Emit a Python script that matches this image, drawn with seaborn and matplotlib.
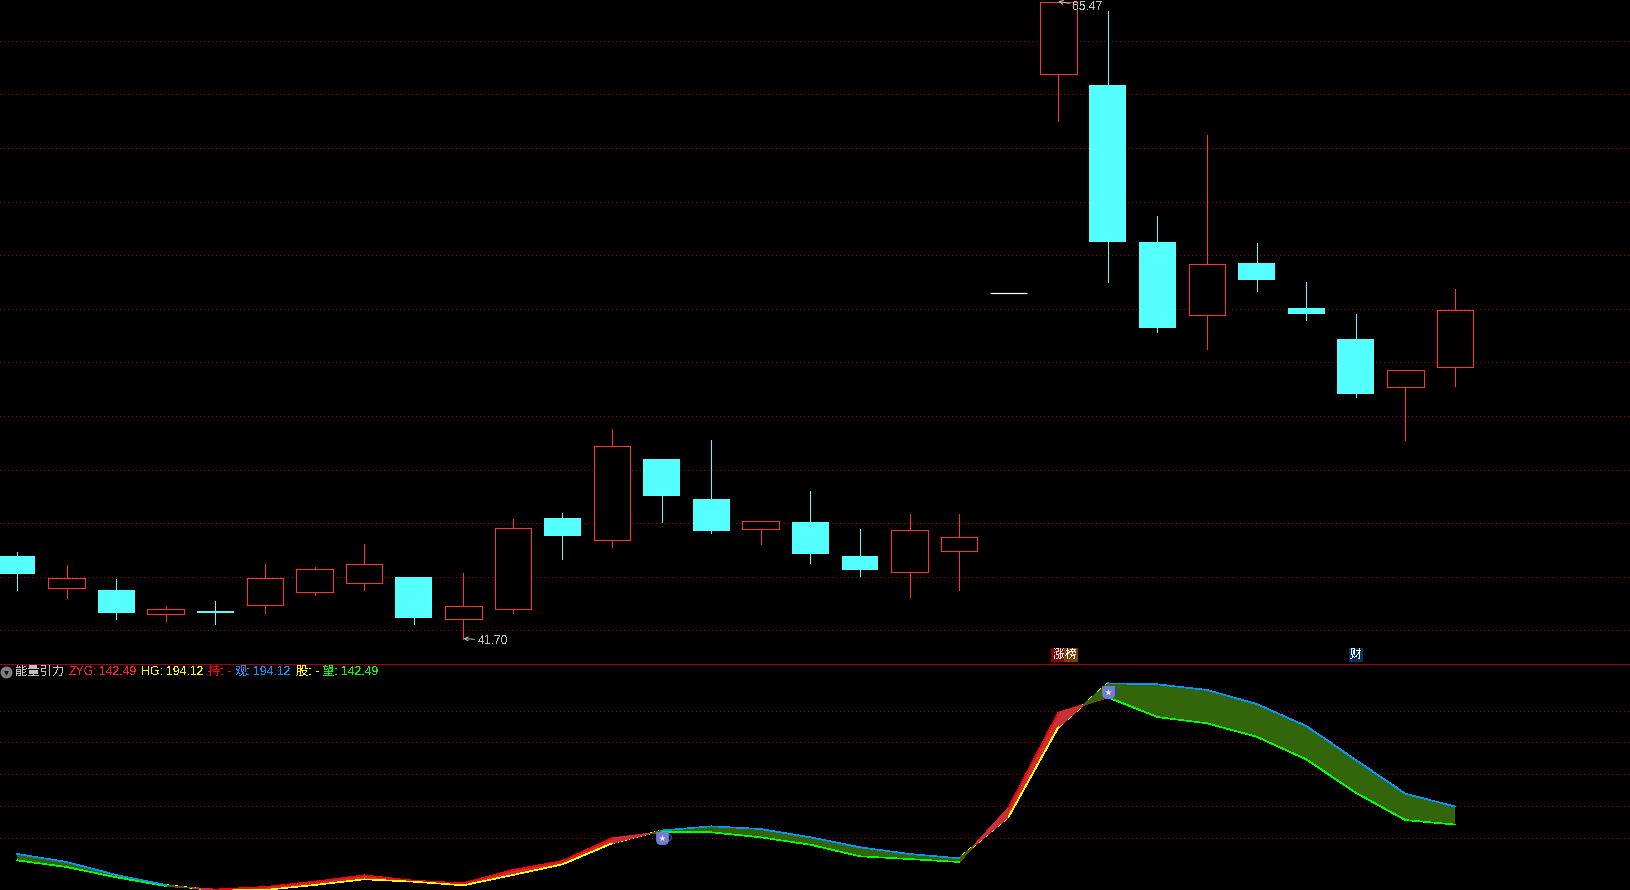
# K-line chart with the energy gravity indicator underneath
import numpy as np
import pandas as pd
import matplotlib.pyplot as plt
import seaborn as sns

# candles (bar 20 is the flat white one)
open_px = [44.78, 43.60, 43.51, 42.63, 42.73, 42.96, 43.45, 43.78, 44.00, 42.44,
           42.81, 46.20, 45.37, 48.40, 46.91, 45.80, 46.05, 44.78, 44.19, 44.98,
           54.58, 62.75, 62.35, 56.50, 53.78, 55.71, 54.03, 52.88, 51.10, 51.84]
high_px = [44.93, 44.44, 43.92, 42.91, 43.10, 44.48, 44.37, 45.23, 44.00, 44.15,
           46.16, 46.38, 49.52, 48.40, 49.11, 46.07, 47.21, 45.79, 46.35, 46.35,
           54.58, 65.47, 65.12, 57.47, 60.49, 56.46, 55.00, 53.81, 51.71, 54.74]
low_px = [43.51, 43.21, 42.43, 42.35, 42.24, 42.65, 43.32, 43.51, 42.24, 41.70,
          42.65, 44.67, 45.12, 46.05, 45.64, 45.23, 44.52, 44.03, 43.25, 43.51,
          54.58, 61.02, 55.00, 53.14, 52.50, 54.67, 53.59, 50.71, 49.11, 51.12]
close_px = [44.11, 43.95, 42.65, 42.79, 42.65, 43.95, 44.28, 44.47, 42.47, 42.90,
            45.81, 45.53, 48.87, 47.02, 45.71, 46.07, 44.86, 44.26, 45.74, 45.48,
            54.58, 65.47, 56.50, 53.29, 55.66, 55.08, 53.81, 50.82, 51.71, 53.95]

# indicator lines
zyg = [39.82, 20.61, -8.93, -33.89, -43.92, -36.75, -21.55, -3.20, -18.69, -26.14,
       12.00, 37.81, 102.92, 120.99, 120.13, 105.79, 84.56, 51.29, 43.55, 34.95,
       190.68, 463.14, 507.31, 450.81, 432.74, 394.31, 329.49, 233.70, 155.40, 142.49]
hg = [57.89, 34.95, -2.34, -31.02, -46.79, -45.36, -31.02, -14.67, -21.55, -31.88,
      -2.34, 28.35, 88.58, 125.29, 137.33, 129.59, 105.79, 77.11, 57.89, 45.56,
      164.87, 421.27, 547.46, 544.59, 528.24, 488.09, 424.99, 327.48, 230.83, 194.12]

price_grid = [64, 62, 60, 58, 56, 54, 52, 50, 48, 46, 44, 42]
indicator_grid = [467.2, 378.3, 286.5, 194.7, 102.9]

cup_bars = [13, 22]
cup_vals = [104.6, 523.4]

legend_texts = ["能量引力", "ZYG:", "142.49", "HG:", "194.12", "持: -", "观:", "194.12", "股: -", "望:", "142.49"]
legend_colors = ["#C0C0C0", "#FF2020", "#FF2020", "#FFFF00", "#FFFF00", "#FF0000",
                 "#0096FF", "#0096FF", "#FFFF00", "#00FF00", "#00FF00"]
legend_x = [15.7, 69, 98.7, 141.3, 165.7, 208.3, 234.7, 253.3, 296, 322.7, 341.3]

W, H = 1631, 890
RED = "#FF3333"
CYAN = "#54FFFF"
GRID = "#A00000"

sns.set_theme(style="dark", rc={"axes.facecolor": "black", "figure.facecolor": "black",
                                "savefig.facecolor": "black", "text.antialiased": False})
plt.rcParams["font.family"] = ["Liberation Sans", "Noto Sans CJK SC", "DejaVu Sans"]

fig = plt.figure(figsize=(W / 100, H / 100), dpi=100)
ax1 = fig.add_axes([0, 226 / H, 1, 664 / H])
ax2 = fig.add_axes([0, 0, 1, 226 / H])

bars = np.arange(len(open_px))
o, h, l, c = map(np.array, (open_px, high_px, low_px, close_px))
up = c > o
down = c < o
flat = c == o
body_w = 0.74

# candles
ax1.vlines(bars[up], l[up], h[up], color=RED, lw=0.72, zorder=2, antialiased=False)
ax1.vlines(bars[down], l[down], h[down], color=CYAN, lw=0.72, zorder=2, antialiased=False)
ax1.bar(bars[down], (o - c)[down], bottom=c[down], width=body_w, color=CYAN, edgecolor="none", linewidth=0,
        zorder=3, antialiased=False)
ax1.bar(bars[up], (c - o)[up], bottom=o[up], width=body_w, facecolor="black", edgecolor=RED,
        linewidth=0.72, zorder=3, antialiased=False)
ax1.hlines(o[flat], bars[flat] - body_w / 2, bars[flat] + body_w / 2, color="white", lw=0.9, zorder=3)

# high / low marks
ax1.annotate("65.47", xy=(21, 65.47), xytext=(10.4, -3.6), textcoords="offset points", color="#C0C0C0",
             fontsize=8.8, va="center", annotation_clip=False,
             arrowprops=dict(arrowstyle="->", color="#C0C0C0", lw=0.7, shrinkA=0, shrinkB=0, mutation_scale=7))
ax1.annotate("41.70", xy=(9, 41.70), xytext=(10.4, -1.5), textcoords="offset points", color="#C0C0C0",
             fontsize=8.8, va="center",
             arrowprops=dict(arrowstyle="->", color="#C0C0C0", lw=0.7, shrinkA=0, shrinkB=0, mutation_scale=7))

# little news tags sitting on the divider
tag_y = 41.09
ax1.text(21, tag_y, "涨", color="#F0F0F0", fontsize=8.6, ha="center", va="center",
         bbox=dict(facecolor="#8B0000", edgecolor="none", pad=0.6))
ax1.annotate("榜", xy=(21, tag_y), xytext=(9, 0), textcoords="offset points", color="#F0F0F0", fontsize=8.6,
             ha="center", va="center", bbox=dict(facecolor="#7B3F00", edgecolor="none", pad=0.6))
ax1.text(27, tag_y, "财", color="#F0F0F0", fontsize=8.6, ha="center", va="center",
         bbox=dict(facecolor="#0A3060", edgecolor="none", pad=0.6))

# indicator: fill first, colours depend on which line is on top
z = np.array(zyg)
g = np.array(hg)
ax2.fill_between(bars, z, g, where=z >= g, interpolate=True, color="#C8303A", lw=0, zorder=3, antialiased=False)
ax2.fill_between(bars, z, g, where=z <= g, interpolate=True, color="#33660A", lw=0, zorder=3, antialiased=False)

rows = []
for i in range(len(bars) - 1):
    falling = z[i] < g[i] and z[i + 1] < g[i + 1]
    crossing = (z[i] - g[i]) * (z[i + 1] - g[i + 1]) < 0
    for j in (i, i + 1):
        rows.append({"bar": j, "value": z[j], "seg": 2 * i, "kind": "green" if falling else "red", "crossing": crossing})
        rows.append({"bar": j, "value": g[j], "seg": 2 * i + 1, "kind": "blue" if falling else "yellow", "crossing": crossing})
lines = pd.DataFrame(rows)
line_colors = {"red": "#FF0000", "yellow": "#FFFF00", "blue": "#0096FF", "green": "#00FF00"}

sns.lineplot(data=lines[lines.crossing], x="bar", y="value", hue="kind", units="seg", estimator=None,
             palette=line_colors, legend=False, lw=0.45, zorder=2, antialiased=False, ax=ax2)
sns.lineplot(data=lines[~lines.crossing], x="bar", y="value", hue="kind", units="seg", estimator=None,
             palette=line_colors, legend=False, lw=0.45, zorder=4, antialiased=False, ax=ax2)

# tea cup icons
cup_x = np.array(cup_bars, dtype=float)
cup_shape = [(-1, 1), (1, 1), (1, -0.4), (0.8, -0.8), (0.5, -1), (-0.5, -1), (-0.8, -0.8), (-1, -0.4)]
ax2.scatter(cup_x + 0.135, cup_vals, marker="o", s=20, facecolor="none", edgecolor="#3A44A0", linewidth=1, zorder=5)
ax2.scatter(cup_x, cup_vals, marker=cup_shape, s=85, color="#6F7FD6", linewidth=0, zorder=6)
ax2.scatter(cup_x, cup_vals, marker="*", s=24, color="#F2EBC4", linewidth=0, zorder=7)

# scales: one bar is 49.58 px, first centre at x = 17.08
xlim = (-17.08 / 49.58, (W - 17.08) / 49.58)
for ax in (ax1, ax2):
    ax.set_xlim(xlim)
    ax.set(xlabel="", ylabel="")
    ax.set_axisbelow(True)
    ax.tick_params(left=False, bottom=False, labelleft=False, labelbottom=False)
    ax.grid(False)
    ax.grid(axis="y", color=GRID, lw=0.72, linestyle=(0, (1, 3)), dash_capstyle="butt", antialiased=False)
    for side in ax.spines:
        ax.spines[side].set_visible(False)
ax1.set_ylim(40.75, 65.526)
ax1.set_yticks(price_grid)
ax2.set_ylim(-45.36, 602.81)
ax2.set_yticks(indicator_grid)
ax2.spines["top"].set_visible(True)
ax2.spines["top"].set_color("#A80000")
ax2.spines["top"].set_linewidth(0.72)

# legend row
for txt, col, x in zip(legend_texts, legend_colors, legend_x):
    fig.text(x / W, 1 - 671.7 / H, txt, color=col, fontsize=8.8, va="center")
ax2.plot([6 / W], [(H - 671.7) / 226], marker="o", ms=8.6, color="#808080", mew=0, transform=ax2.transAxes, clip_on=False)
ax2.plot([6 / W], [(H - 672.7) / 226], marker="v", ms=3.5, color="#101010", mew=0, transform=ax2.transAxes, clip_on=False)

fig.savefig("out.png", dpi=100)
